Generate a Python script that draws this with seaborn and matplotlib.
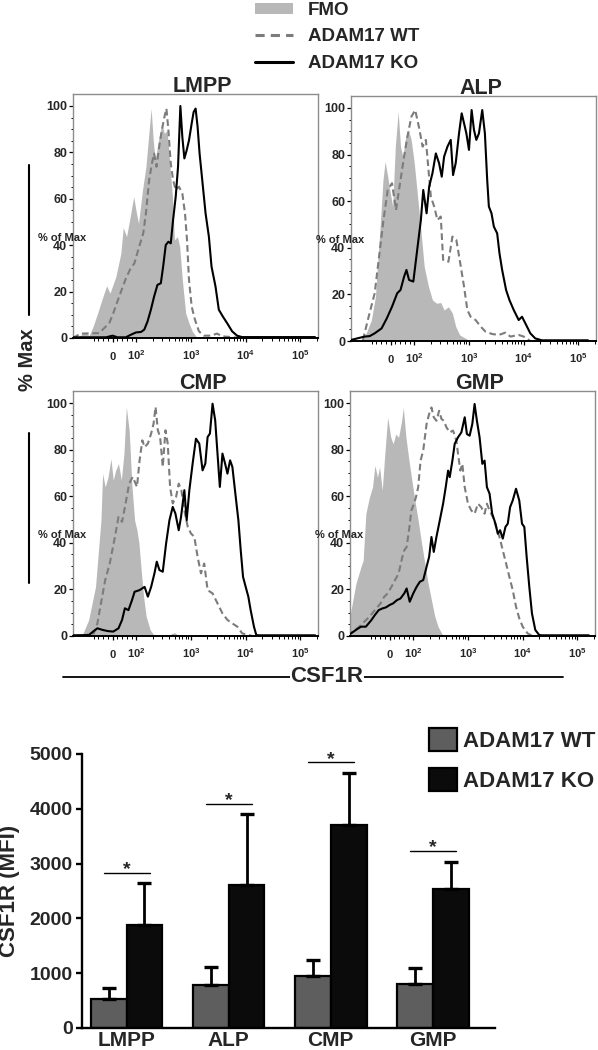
import numpy as np
import pandas as pd
import matplotlib
matplotlib.use("Agg")
import matplotlib.pyplot as plt
from matplotlib.lines import Line2D
from matplotlib.patches import Patch
from matplotlib.ticker import FixedLocator
import seaborn as sns

sns.set_theme(style="ticks")
plt.rcParams["font.family"] = ["Liberation Sans", "DejaVu Sans"]
plt.rcParams["font.weight"] = "bold"
plt.rcParams["axes.labelweight"] = "bold"
plt.rcParams["mathtext.fontset"] = "custom"
plt.rcParams["mathtext.rm"] = "Liberation Sans:bold"
plt.rcParams["mathtext.it"] = "Liberation Sans:bold"
plt.rcParams["mathtext.bf"] = "Liberation Sans:bold"

# ---------------- histogram data (CSF1R intensity vs % of max) ----------------
LMPP_FMO_X = [-161, -130, -113, -99, -82, -63, -45, -25, -11, 14, 35, 45, 59, 77, 89, 101, 110, 130, 150, 172,
              187, 204, 222, 255, 293, 327, 366, 409, 458, 498, 565, 622, 695, 800, 920, 1057, 1303]
LMPP_FMO_Y = [0, 1.9, 2.4, 1.0, 5.0, 10.7, 16.5, 22.5, 19.3, 26.5, 36.5, 47.6, 43.7, 53.7, 60.9, 53.7, 49.4, 63.8,
              73.8, 89.5, 98.9, 85.2, 76.6, 85.2, 92.4, 88.1, 89.5, 75.2, 60.9, 42.3, 43.7, 39.4, 25.1, 10.7, 6.4, 2.9, 0]
LMPP_WT_X = [-198, -140, -56, -35, -14, 3, 28, 54, 73, 92, 113, 134, 150, 172, 193, 212, 234, 262, 293, 327,
             356, 387, 427, 471, 526, 605, 695, 778, 846, 920, 1029, 1182, 1397, 1722, 2278, 3013, 3715, 5646, 7464]
LMPP_WT_Y = [0, 1.9, 2.1, 4.3, 6.4, 10.7, 17.9, 25.1, 29.4, 32.2, 39.4, 45.1, 53.7, 68.1, 75.2, 79.5, 73.8, 82.4,
             89.5, 95.3, 98.9, 89.5, 75.2, 68.1, 63.8, 65.2, 62.3, 53.7, 42.3, 25.1, 13.6, 7.9, 2.9, 1.0, 1.0, 1.9,
             0.7, 0.4, 0]
LMPP_KO_X = [-198, -28, 0, 21, 56, 77, 99, 122, 140, 161, 185, 212, 244, 281, 310, 346, 387, 427, 471, 526,
             580, 640, 695, 757, 834, 920, 1029, 1118, 1216, 1322, 1437, 1607, 1849, 2125, 2375, 2809, 3228, 3817,
             4580, 5646, 6955, 8570, 13030, 184900]
LMPP_KO_Y = [0.3, 0.3, 1.0, 0.3, 0.3, 1.4, 2.4, 2.6, 3.6, 7.2, 12.2, 17.9, 22.9, 23.6, 30.8, 40.1, 41.5, 40.8,
             50.9, 60.9, 73.8, 100, 86.7, 77.4, 80.9, 85.2, 92.4, 97.4, 98.9, 91.0, 79.5, 68.1, 53.7, 43.7, 30.8,
             22.2, 12.2, 9.3, 6.4, 2.9, 1.0, 0.4, 0.4, 0.4]

ALP_FMO_X = [-127, -103, -81, -64, -45, -32, -23, -12, -1, 9, 20, 32, 42, 52, 64, 75, 87, 100, 115, 132, 152,
             182, 215, 255, 305, 351, 421, 498, 572, 677, 872, 1072]
ALP_FMO_Y = [0, 3.3, 9.0, 19.0, 47.6, 69.1, 77.0, 70.5, 63.4, 57.7, 83.4, 98.4, 83.4, 79.1, 87.7, 90.6, 86.3,
             76.3, 61.9, 47.6, 31.9, 23.3, 17.6, 16.2, 16.5, 13.3, 14.7, 11.9, 6.2, 2.6, 1.1, 0]
ALP_WT_X = [-118, -96, -67, -30, -12, 6, 23, 42, 57, 71, 88, 104, 123, 142, 163, 182, 201, 231, 265, 305,
            337, 421, 498, 588, 677, 813, 934, 1072, 1322, 1631, 2012, 2661, 3520, 4642, 5712, 8110, 10000, 13220]
ALP_WT_Y = [0.4, 9.0, 20.5, 51.9, 64.8, 67.7, 56.2, 69.1, 79.1, 87.7, 96.3, 99.1, 91.3, 83.4, 86.3, 73.4, 61.9,
            57.7, 51.9, 53.4, 34.8, 34.0, 44.8, 43.3, 34.8, 23.3, 13.3, 10.4, 9.0, 6.2, 4.0, 3.0, 2.6, 3.6, 1.9,
            2.6, 1.9, 0]
ALP_KO_X = [-207, -110, -88, -67, -38, -16, 6, 28, 42, 57, 67, 78, 96, 115, 132, 146, 168, 187, 215, 248,
            284, 318, 351, 404, 464, 512, 572, 658, 736, 813, 896, 1000, 1118, 1234, 1362, 1522, 1748, 1954, 2154,
            2310, 2580, 2848, 3275, 3613, 4039, 4770, 5486, 6579, 8110, 9326, 10720, 13220, 16300, 21540, 150000]
ALP_KO_Y = [0.3, 1.9, 2.1, 3.3, 5.4, 9.7, 14.7, 20.5, 21.9, 27.6, 30.5, 26.2, 25.5, 40.5, 51.9, 64.8, 54.8,
            66.2, 72.0, 80.5, 76.3, 70.5, 79.1, 83.4, 86.3, 71.2, 76.3, 89.1, 97.7, 93.4, 89.1, 82.0, 99.1, 90.6,
            86.3, 89.1, 99.1, 89.1, 69.1, 57.7, 54.8, 49.1, 46.2, 37.6, 30.5, 21.9, 17.6, 13.3, 9.0, 10.4, 7.6,
            3.3, 1.1, 0.3, 0.3]

CMP_FMO_X = [-134, -101, -72, -49, -42, -31, -19, -7, 3, 13, 25, 37, 48, 58, 70, 82, 93, 103, 112, 123,
             136, 152, 180, 215, 351, 498, 614, 757]
CMP_FMO_Y = [0, 6.9, 21.1, 49.7, 69.7, 64.0, 68.3, 76.1, 66.9, 71.1, 74.0, 66.9, 78.3, 98.3, 88.3, 64.0, 49.7,
             45.4, 39.7, 28.3, 16.9, 8.3, 2.6, 0, 0, 1.5, 0, 0]
CMP_WT_X = [-134, -79, -64, -49, -31, -12, 10, 25, 40, 55, 70, 85, 103, 115, 129, 142, 163, 187, 207, 225,
            248, 273, 305, 342, 376, 415, 464, 534, 597, 667, 757, 872, 1000, 1150, 1322, 1522, 1748, 2012, 2481,
            3055, 3763, 4642, 5712, 7034, 8660, 11500, 13220]
CMP_WT_Y = [0, 1.1, 5.4, 14.0, 24.0, 31.1, 42.6, 51.1, 49.0, 56.9, 65.4, 68.3, 64.0, 75.4, 84.0, 81.1, 82.6,
            86.9, 91.1, 98.3, 88.3, 85.4, 72.6, 88.3, 82.6, 64.0, 56.9, 59.7, 65.4, 62.6, 54.0, 46.9, 44.0, 42.6,
            34.0, 26.9, 31.1, 19.7, 18.3, 14.0, 9.7, 6.9, 5.4, 4.0, 1.1, 0.4, 0]
CMP_KO_X = [-218, -100, -82, -64, -42, -19, 3, 25, 40, 52, 67, 82, 93, 115, 142, 163, 187, 215, 237, 265,
            305, 351, 404, 464, 519, 597, 658, 757, 834, 934, 1072, 1233, 1417, 1630, 1830, 2012, 2219, 2481, 2770,
            3055, 3371, 3763, 4206, 4642, 5190, 5712, 6579, 7357, 8110, 8950, 10000, 11180, 12330, 14170, 15640,
            17480, 186600]
CMP_KO_Y = [0.3, 0.4, 1.9, 3.3, 2.6, 2.1, 1.9, 3.3, 6.9, 11.9, 11.1, 15.4, 19.0, 19.7, 21.1, 16.9, 21.1, 26.9,
            31.9, 28.3, 27.6, 39.7, 49.7, 55.4, 52.6, 45.4, 51.1, 62.6, 49.7, 62.6, 74.0, 84.7, 82.6, 71.1, 74.0,
            85.4, 86.9, 99.7, 92.6, 78.3, 64.0, 78.3, 74.0, 69.7, 75.4, 72.6, 59.7, 49.7, 36.9, 25.4, 21.1, 16.9,
            11.1, 4.0, 0.4, 0.3, 0.3]

GMP_FMO_X = [-221, -187, -152, -123, -112, -100, -85, -72, -62, -51, -42, -31, -20, -8, 5, 15, 26, 38, 51, 58,
             69, 82, 92, 107, 123, 142, 163, 187, 215, 248, 284, 351]
GMP_FMO_Y = [1.1, 11.1, 22.5, 29.7, 32.5, 52.5, 59.6, 63.9, 73.2, 68.2, 72.5, 62.5, 78.2, 93.9, 85.3, 82.5,
             86.7, 85.3, 92.4, 98.1, 85.3, 75.3, 68.2, 58.2, 49.6, 39.7, 31.1, 22.5, 15.4, 8.3, 4.0, 0]
GMP_WT_X = [-215, -175, -132, -107, -85, -62, -38, -23, -8, 8, 23, 38, 54, 62, 72, 82, 92, 103, 112, 123,
            136, 152, 163, 175, 195, 215, 237, 265, 297, 327, 361, 404, 464, 534, 614, 658, 725, 788, 872, 1000,
            1150, 1322, 1522, 1748, 2012, 2219, 2481, 2848, 3275, 3763, 4327, 4977, 5712, 6579, 7557, 8660, 10000,
            12330, 15200]
GMP_WT_Y = [0, 1.9, 4.0, 6.1, 8.3, 11.1, 14.0, 16.8, 18.3, 21.1, 24.0, 26.8, 34.0, 36.8, 38.2, 45.4, 53.9,
            56.8, 59.6, 63.9, 75.3, 79.6, 85.3, 91.0, 95.3, 98.1, 93.9, 92.4, 96.7, 93.2, 92.4, 89.6, 87.4, 88.2,
            83.9, 78.2, 71.0, 73.9, 63.9, 56.8, 53.9, 52.5, 56.8, 55.3, 52.5, 56.8, 53.9, 51.1, 46.8, 42.5, 36.8,
            31.1, 25.4, 19.7, 12.6, 7.6, 4.0, 1.1, 0]
GMP_KO_X = [-221, -187, -152, -123, -100, -77, -62, -46, -31, -15, 0, 15, 31, 46, 62, 72, 85, 100, 115, 132,
            152, 175, 195, 215, 237, 265, 305, 351, 392, 433, 464, 519, 572, 658, 757, 872, 956, 1072, 1200, 1322,
            1456, 1630, 1830, 2012, 2219, 2481, 2770, 3183, 3508, 3865, 4327, 4839, 5336, 5885, 6579, 7557, 8660,
            9728, 10720, 11820, 13220, 14780, 17010, 20090, 23050, 162000]
GMP_KO_Y = [0.3, 1.1, 2.6, 4.0, 4.0, 6.8, 9.0, 11.1, 11.8, 12.3, 13.3, 14.0, 15.4, 16.1, 18.3, 20.4, 14.7,
            18.3, 21.1, 23.3, 24.0, 29.7, 34.0, 42.5, 36.1, 42.5, 49.6, 56.8, 63.9, 71.0, 68.2, 75.3, 82.5, 85.3,
            87.4, 93.9, 86.7, 86.0, 91.0, 99.6, 92.4, 85.3, 73.9, 75.3, 63.9, 61.1, 52.5, 48.2, 43.9, 45.4, 41.8,
            46.8, 48.2, 55.3, 58.2, 63.2, 58.2, 48.2, 46.8, 34.0, 21.1, 9.7, 2.6, 0.4, 0.3, 0.3]

PANELS = ["LMPP", "ALP", "CMP", "GMP"]
HIST_LABELS = ["FMO", "ADAM17 WT", "ADAM17 KO"]
X_TICKS = [0, 100, 1000, 10000, 100000]
X_TICK_LABELS = [r"$0$", r"$10^{2}$", r"$10^{3}$", r"$10^{4}$", r"$10^{5}$"]
Y_TICKS = [0, 20, 40, 60, 80, 100]

# ---------------- bar chart data ----------------
POPULATIONS = ["LMPP", "ALP", "CMP", "GMP"]
GENOTYPES = ["ADAM17 WT", "ADAM17 KO"]
WT_MEAN = [535, 778, 954, 808]
WT_SEM = [194, 328, 291, 286]
KO_MEAN = [1871, 2606, 3706, 2533]
KO_SEM = [772, 1294, 954, 505]
BAR_Y_TICKS = [0, 1000, 2000, 3000, 4000, 5000]

HIST = {
    "LMPP": (LMPP_FMO_X, LMPP_FMO_Y, LMPP_WT_X, LMPP_WT_Y, LMPP_KO_X, LMPP_KO_Y),
    "ALP": (ALP_FMO_X, ALP_FMO_Y, ALP_WT_X, ALP_WT_Y, ALP_KO_X, ALP_KO_Y),
    "CMP": (CMP_FMO_X, CMP_FMO_Y, CMP_WT_X, CMP_WT_Y, CMP_KO_X, CMP_KO_Y),
    "GMP": (GMP_FMO_X, GMP_FMO_Y, GMP_WT_X, GMP_WT_Y, GMP_KO_X, GMP_KO_Y),
}

FMO_COLOR = "#b8b8b8"
WT_LINE = "#7c7c7c"
KO_LINE = "#000000"
WT_BAR = "#5e5e5e"
KO_BAR = "#0b0b0b"
DASH = (0, (3.2, 1.8))

W, H = 598, 1050
fig = plt.figure(figsize=(W / 100, H / 100), dpi=100)
fig.patch.set_facecolor("white")


def rect(l, t, r, b):
    return [l / W, 1 - b / H, (r - l) / W, (b - t) / H]


AX_RECTS = {
    "LMPP": rect(73, 94.4, 318, 338),
    "ALP": rect(351, 96.3, 596, 341),
    "CMP": rect(73, 391.4, 318, 636),
    "GMP": rect(350, 391.4, 595, 636),
}

minor_x = [-200, -80, -60, -40, -20, 20, 40, 60, 80] + \
          [k * 10 ** e for e in (2, 3, 4) for k in range(2, 10)] + [200000]

for name in PANELS:
    fx, fy, wx, wy, kx, ky = HIST[name]
    ax = fig.add_axes(AX_RECTS[name])
    ax.set_facecolor("white")
    ax.fill_between(fx, fy, 0, color=FMO_COLOR, lw=0, zorder=1)
    sns.lineplot(x=wx, y=wy, ax=ax, color=WT_LINE, lw=1.5, linestyle=DASH,
                 sort=False, estimator=None, zorder=2)
    sns.lineplot(x=kx, y=ky, ax=ax, color=KO_LINE, lw=1.5,
                 sort=False, estimator=None, zorder=3)
    ax.set_xscale("symlog", linthresh=100, linscale=0.39)
    ax.set_xlim(-195, 2.1e5)
    ax.set_ylim(0, 105)
    ax.set_xlabel("")
    ax.set_ylabel("")
    ax.set_xticks(X_TICKS)
    ax.set_xticklabels(X_TICK_LABELS)
    ax.xaxis.set_minor_locator(FixedLocator(minor_x))
    ax.set_yticks(Y_TICKS)
    ax.yaxis.set_minor_locator(FixedLocator(list(range(5, 101, 5))))
    ax.tick_params(axis="y", which="major", direction="out", length=3, width=0.9,
                   color="black", labelsize=9, pad=1.2)
    ax.tick_params(axis="y", which="minor", direction="out", length=1.8, width=0.7, color="black")
    ax.tick_params(axis="x", which="major", direction="out", length=3.2, width=0.9,
                   color="black", labelsize=8, pad=12.5)
    ax.tick_params(axis="x", which="minor", direction="out", length=2, width=0.7, color="black")
    for lbl in ax.get_xticklabels():
        lbl.set_verticalalignment("baseline")
    for s in ("left", "top", "right"):
        ax.spines[s].set_color("#8c8c8c")
        ax.spines[s].set_linewidth(1.0)
    ax.spines["bottom"].set_color("black")
    ax.spines["bottom"].set_linewidth(1.4)
    ax.text(0.53, 1.008, name, transform=ax.transAxes, ha="center", va="baseline",
            fontsize=15.5, fontweight="bold")
    ax.text(-0.143, 0.412, "% of Max", transform=ax.transAxes, ha="left", va="center",
            fontsize=8, fontweight="bold", zorder=6)

# top legend
top_handles = [Patch(facecolor=FMO_COLOR, edgecolor="none"),
               Line2D([], [], color=WT_LINE, lw=2.2, linestyle=(0, (3, 2))),
               Line2D([], [], color=KO_LINE, lw=2.2)]
fig.legend(top_handles, HIST_LABELS, loc="upper left", bbox_to_anchor=(255 / W, 1 - 2 / H),
           frameon=False, fontsize=13.5, handlelength=2.03, handleheight=0.5,
           handletextpad=0.8, labelspacing=0.5, borderpad=0, borderaxespad=0)

# shared y label "% Max" with bars
fig.text(28 / W, 1 - 360 / H, "% Max", rotation=90, ha="center", va="center",
         fontsize=14.5, fontweight="bold")
fig.add_artist(Line2D([29 / W, 29 / W], [1 - 165 / H, 1 - 315 / H], color="black", lw=1.5))
fig.add_artist(Line2D([29 / W, 29 / W], [1 - 433 / H, 1 - 583 / H], color="black", lw=1.5))

# shared x label "CSF1R"
fig.add_artist(Line2D([63 / W, 563 / W], [1 - 677 / H, 1 - 677 / H], color="black", lw=1.3))
fig.text(327 / W, 1 - 677 / H, "CSF1R", ha="center", va="center", fontsize=16, fontweight="bold",
         bbox=dict(facecolor="white", edgecolor="none", pad=0.3), zorder=5)

# ---------------- bar chart ----------------
axb = fig.add_axes(rect(82, 754, 495, 1028))
df = pd.DataFrame({
    "Population": POPULATIONS * 2,
    "Genotype": [GENOTYPES[0]] * len(POPULATIONS) + [GENOTYPES[1]] * len(POPULATIONS),
    "MFI": WT_MEAN + KO_MEAN,
})
sns.barplot(data=df, x="Population", y="MFI", hue="Genotype", order=POPULATIONS, hue_order=GENOTYPES,
            palette=[WT_BAR, KO_BAR], width=0.7, saturation=1, edgecolor="black", linewidth=1.6,
            errorbar=None, ax=axb, legend=False)
for cont, sems in zip(axb.containers, [WT_SEM, KO_SEM]):
    for bar, sem in zip(cont, sems):
        xc = bar.get_x() + bar.get_width() / 2
        axb.errorbar(xc, bar.get_height(), yerr=[[0], [sem]], color="black", elinewidth=2.0,
                     capsize=5, capthick=2.4, zorder=3)
for i, (m, s) in enumerate(zip(KO_MEAN, KO_SEM)):
    ysig = m + s + 185
    axb.plot([i - 0.225, i + 0.225], [ysig, ysig], color="black", lw=1.0)
    axb.text(i, ysig - 20, "*", ha="center", va="baseline", fontsize=14, fontweight="bold")

axb.set_xlim(-0.436, 3.608)
axb.set_ylim(0, 5000)
axb.set_yticks(BAR_Y_TICKS)
axb.set_xlabel("")
axb.set_ylabel("CSF1R (MFI)", fontsize=16, fontweight="bold")
axb.yaxis.set_label_coords(-0.15, 0.5)
sns.despine(ax=axb)
for s in ("left", "bottom"):
    axb.spines[s].set_linewidth(1.7)
    axb.spines[s].set_color("black")
axb.tick_params(axis="y", direction="out", length=4.3, width=1.7, color="black", labelsize=14, pad=2.5)
axb.tick_params(axis="x", length=0, labelsize=15, pad=2.5)

bar_handles = [Patch(facecolor=WT_BAR, edgecolor="black", lw=1.6),
               Patch(facecolor=KO_BAR, edgecolor="black", lw=1.6)]
fig.legend(bar_handles, GENOTYPES, loc="upper left", bbox_to_anchor=(429 / W, 1 - 728 / H),
           frameon=False, fontsize=16, handlelength=1.26, handleheight=1.22, handletextpad=0.27,
           labelspacing=0.72, borderpad=0, borderaxespad=0)

fig.savefig("out.png", dpi=100, facecolor="white")
